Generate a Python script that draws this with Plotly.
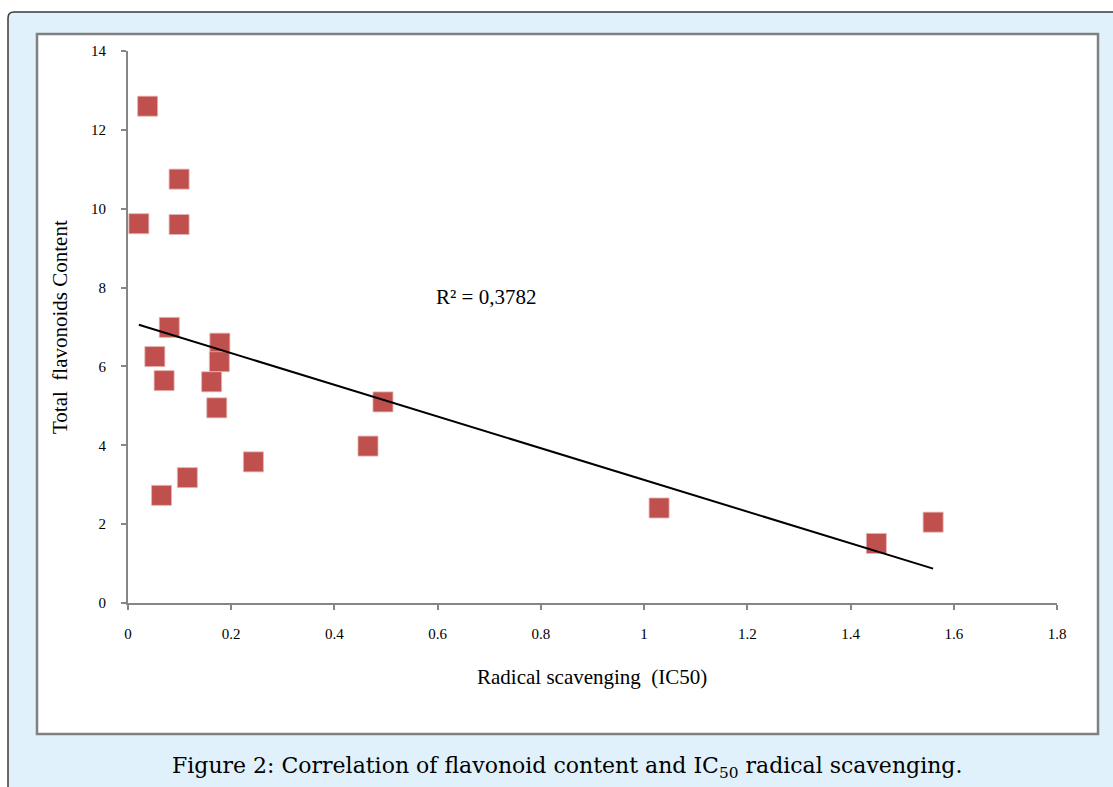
import numpy as np
import plotly.graph_objects as go

# ---- data ----
ic50 = [0.038, 0.099, 0.021, 0.099, 0.080, 0.052, 0.070, 0.178, 0.177,
        0.162, 0.172, 0.243, 0.115, 0.065, 0.494, 0.465, 1.029, 1.450, 1.560]
flavonoids = [12.60, 10.75, 9.62, 9.60, 6.99, 6.25, 5.64, 6.59, 6.12,
              5.61, 4.95, 3.58, 3.18, 2.73, 5.10, 3.98, 2.41, 1.51, 2.05]
x_ticks = [0, 0.2, 0.4, 0.6, 0.8, 1, 1.2, 1.4, 1.6, 1.8]
y_ticks = [0, 2, 4, 6, 8, 10, 12, 14]
r2_label = "R² = 0,3782"
x_title = "Radical scavenging  (IC50)"
y_title = "Total  flavonoids Content"
caption = "Figure 2: Correlation of flavonoid content and IC<sub>50</sub> radical scavenging."

# ---- layout geometry (pixels) ----
W, H = 1113, 787
PL, PR, PT, PB = 128, 1057, 51, 603  # plot area edges


def fx(px):
    return (px - PL) / (PR - PL)


def fy(py):
    return (PB - py) / (PB - PT)


# linear trend line computed from the data
slope, intercept = np.polyfit(ic50, flavonoids, 1)
xl = np.array([min(ic50), max(ic50)])
yl = slope * xl + intercept

fig = go.Figure()
fig.add_trace(go.Scatter(
    x=ic50, y=flavonoids, mode="markers",
    marker=dict(symbol="square", size=20, color="#C0504D",
                line=dict(width=0.8, color="#E6B3B2")),
    cliponaxis=False, showlegend=False, hoverinfo="x+y"))
fig.add_trace(go.Scatter(
    x=xl, y=yl, mode="lines", line=dict(color="black", width=2),
    showlegend=False, hoverinfo="skip"))

# background panel with rounded top-left corner
r = 6
x0, y0, x1, y1 = 8, 12, W + 20, H + 20
path = (f"M {fx(x0)},{fy(y1)} L {fx(x0)},{fy(y0 + r)} "
        f"Q {fx(x0)},{fy(y0)} {fx(x0 + r)},{fy(y0)} "
        f"L {fx(x1)},{fy(y0)} L {fx(x1)},{fy(y1)} Z")
shapes = [
    dict(type="path", xref="paper", yref="paper", path=path,
         fillcolor="#E0F1FB", line=dict(color="#3A3A3A", width=1.5), layer="below"),
    dict(type="rect", xref="paper", yref="paper",
         x0=fx(37), x1=fx(1098), y0=fy(734), y1=fy(34),
         fillcolor="white", line=dict(color="#808080", width=2.5), layer="below"),
]

serif = "Liberation Serif, Times New Roman, serif"
annotations = [
    dict(text=r2_label, x=fx(486), y=fy(297), xref="paper", yref="paper",
         showarrow=False, font=dict(family=serif, size=21, color="black"),
         xanchor="center", yanchor="middle"),
    dict(text=x_title.replace("  ", "&nbsp; "), x=fx(592), y=fy(677), xref="paper", yref="paper",
         showarrow=False, font=dict(family=serif, size=21, color="black"),
         xanchor="center", yanchor="middle"),
    dict(text=y_title.replace("  ", "&nbsp; "), x=fx(60), y=fy(327), xref="paper", yref="paper",
         showarrow=False, textangle=-90, font=dict(family=serif, size=21, color="black"),
         xanchor="center", yanchor="middle"),
    dict(text=caption, x=fx(567), y=fy(767), xref="paper", yref="paper",
         showarrow=False, font=dict(family="DejaVu Serif, serif", size=22, color="black"),
         xanchor="center", yanchor="middle"),
]

axis_common = dict(showline=True, linecolor="#868686", linewidth=2,
                   ticks="outside", tickcolor="#868686", tickwidth=1.5, ticklen=5,
                   showgrid=False, zeroline=False,
                   tickfont=dict(family=serif, size=15, color="black"))

fig.update_layout(
    width=W, height=H,
    margin=dict(l=PL, r=W - PR, t=PT, b=H - PB, pad=0),
    paper_bgcolor="white", plot_bgcolor="rgba(0,0,0,0)",
    shapes=shapes, annotations=annotations, showlegend=False,
    xaxis=dict(range=[0, 1.8], tickvals=x_ticks,
               ticktext=[f"{v:g}" for v in x_ticks], ticklabelstandoff=11, **axis_common),
    yaxis=dict(range=[0, 14], tickvals=y_ticks,
               ticktext=[str(v) for v in y_ticks], ticklabelstandoff=12, **axis_common),
)

fig.write_html("out.html", config={"displayModeBar": False},
               post_script="document.body.style.margin='0';document.body.style.overflow='hidden';")
